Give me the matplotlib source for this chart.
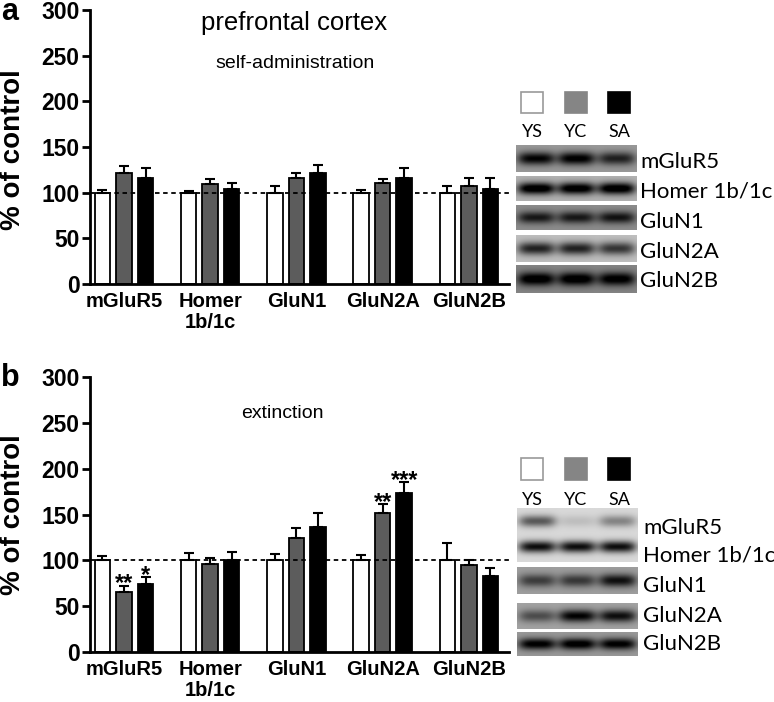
import numpy as np
import matplotlib.pyplot as plt

# ── data ──────────────────────────────────────────────────────────────────────
groups = ["mGluR5", "Homer\n1b/1c", "GluN1", "GluN2A", "GluN2B"]
series = ["YS", "YC", "SA"]
yticks = [0, 50, 100, 150, 200, 250, 300]

a_ys = [100, 100, 100, 100, 100]
a_ys_err = [2.5, 2, 7.5, 2.5, 7]
a_yc = [121.5, 110, 116, 110.5, 107.5]
a_yc_err = [7.5, 5.5, 6, 5, 9]
a_sa = [116.5, 104, 121.5, 116, 104.5]
a_sa_err = [10.5, 7, 9, 10.5, 12]

b_ys = [100, 100, 100, 100, 100]
b_ys_err = [4.5, 7.5, 7, 5.5, 19]
b_yc = [66, 96.5, 124.5, 151.5, 94.5]
b_yc_err = [6.5, 6.5, 11, 10, 6]
b_sa = [74, 100, 136, 174, 83]
b_sa_err = [7.5, 9.5, 15.5, 11, 8.5]
b_yc_stars = ["**", "", "", "**", ""]
b_sa_stars = ["*", "", "", "***", ""]

blot_labels = ["mGluR5", "Homer 1b/1c", "GluN1", "GluN2A", "GluN2B"]
# band darkness per lane (YS, YC, SA) and blot background darkness
a_band_levels = [[0.72, 0.75, 0.6], [0.9, 0.88, 0.9], [0.6, 0.6, 0.62],
                 [0.7, 0.7, 0.62], [0.75, 0.75, 0.72]]
a_band_bg = [0.4, 0.3, 0.45, 0.25, 0.48]
b_mglur5_levels = [0.55, 0.15, 0.38]
b_homer_levels = [0.85, 0.85, 0.85]
b_band_levels = [[0.5, 0.52, 0.68], [0.45, 0.75, 0.7], [0.75, 0.78, 0.75]]
b_band_bg = [0.38, 0.36, 0.4]

BAR_COLORS = ["white", "#5c5c5c", "black"]
KEY_COLORS = ["white", "#858585", "black"]
W, H = 774, 702
BLOT_FONT = "Lato"

plt.rcParams["font.family"] = "Liberation Sans"
plt.rcParams["font.weight"] = "bold"


def draw_bars(ax, means, errs, stars=None):
    x = np.arange(len(groups))
    for i, (m, e) in enumerate(zip(means, errs)):
        xi = x + (i - 1) * 0.25
        ax.bar(xi, m, width=0.18, color=BAR_COLORS[i], edgecolor="black",
               linewidth=1.3, zorder=2)
        ax.errorbar(xi, m, yerr=[np.zeros(len(e)), e], fmt="none",
                    ecolor="black", elinewidth=1.5, capsize=3.3,
                    capthick=1.5, zorder=3)
        if stars is not None and stars[i] is not None:
            for xx, mm, ee, s in zip(xi, m, e, stars[i]):
                if s:
                    ax.text(xx, mm + ee - 5, s, ha="center", va="baseline",
                            fontsize=17)
    ax.axhline(100, color="black", lw=1.3, ls=(0, (2.5, 2)), zorder=4)
    ax.set_xlim(-0.394, 4.466)
    ax.set_ylim(0, 300)
    ax.set_yticks(yticks)
    ax.set_xticks(x, labels=groups, linespacing=1.1)
    ax.tick_params(axis="x", length=0, pad=6, labelsize=14.5)
    ax.tick_params(axis="y", length=6, width=2, pad=1.5, labelsize=16.5)
    ax.patch.set_alpha(0)
    for s in ["top", "right"]:
        ax.spines[s].set_visible(False)
    for s in ["left", "bottom"]:
        ax.spines[s].set_linewidth(2)


def blot(ov, x0, x1, y0, y1, bands, bg):
    """bands: list of (centre fraction, width fraction, [lane darkness])"""
    yy = np.linspace(0, 1, 80)[:, None]
    xx = np.linspace(0, 1, 150)[None, :]
    dark = np.full((80, 150), bg)
    for yc, sy, levels in bands:
        for c, lev in zip([1 / 6, 3 / 6, 5 / 6], levels):
            lane = np.exp(-((xx - c) / 0.155) ** 4)
            dark = dark + (lev - bg * 0.3) * lane * np.exp(-((yy - yc) / sy) ** 2)
    dark = np.clip(dark, 0, 1)
    ov.imshow(1 - dark, cmap="gray", vmin=0, vmax=1, extent=(x0, x1, y1, y0),
              aspect="auto", interpolation="bilinear", zorder=1)


def key(ov, y0, y1, ylab):
    for x0, c, name in zip([521, 565, 608], KEY_COLORS, series):
        ov.add_patch(plt.Rectangle((x0, y0), 22, y1 - y0, facecolor=c,
                                   edgecolor="#999999" if c == "white" else c,
                                   lw=1.2))
        ov.text(x0 + 11, ylab, name, ha="center", va="baseline", fontsize=13,
                family=BLOT_FONT, fontweight="normal")


fig = plt.figure(figsize=(W / 100, H / 100), dpi=100)
ov = fig.add_axes([0, 0, 1, 1])
ov.axis("off")
ax_a = fig.add_axes([90 / W, 1 - 284 / H, 419 / W, 274 / H])
ax_b = fig.add_axes([90 / W, 1 - 652 / H, 419 / W, 275 / H])
draw_bars(ax_a, [a_ys, a_yc, a_sa], [a_ys_err, a_yc_err, a_sa_err])
draw_bars(ax_b, [b_ys, b_yc, b_sa], [b_ys_err, b_yc_err, b_sa_err],
          stars=[None, b_yc_stars, b_sa_stars])

# panel letters, y labels and titles
ov.text(1, 20, "a", fontsize=22, va="baseline")
ov.text(1, 386, "b", fontsize=22, va="baseline")
for yc in [150, 515]:
    ov.text(13, yc, "% of control", rotation=90, ha="center", va="center",
            fontsize=20)
ov.text(294, 23, "prefrontal cortex", ha="center", va="center", fontsize=18.5,
        fontweight="normal")
ov.text(295, 63, "self-administration", ha="center", va="center", fontsize=14,
        fontweight="normal")
ov.text(282, 414, "extinction", ha="center", va="center", fontsize=14,
        fontweight="normal")

# panel a blots
key(ov, 92, 113, 137)
a_rows = [(145, 172), (176, 201), (205, 230), (235, 262), (265, 293)]
a_label_y = [168, 198, 228, 258, 287]
for (y0, y1), lev, bg, lab, ly in zip(a_rows, a_band_levels, a_band_bg,
                                      blot_labels, a_label_y):
    blot(ov, 516, 637, y0, y1, [(0.5, 0.24, lev)], bg)
    ov.text(640, ly, lab, va="baseline", fontsize=16, family=BLOT_FONT,
            fontweight="normal")

# panel b blots
key(ov, 458, 480, 505)
blot(ov, 517, 638, 508, 562, [(0.24, 0.11, b_mglur5_levels),
                              (0.72, 0.11, b_homer_levels)], 0.15)
b_rows = [(567, 594), (603, 629), (632, 656)]
for (y0, y1), lev, bg in zip(b_rows, b_band_levels, b_band_bg):
    blot(ov, 517, 638, y0, y1, [(0.5, 0.24, lev)], bg)
b_label_y = [534, 562, 592, 622, 650]
for lab, ly in zip(blot_labels, b_label_y):
    ov.text(643, ly, lab, va="baseline", fontsize=16, family=BLOT_FONT,
            fontweight="normal")

ov.set_xlim(0, W)
ov.set_ylim(H, 0)

fig.savefig("out.png", dpi=100)
